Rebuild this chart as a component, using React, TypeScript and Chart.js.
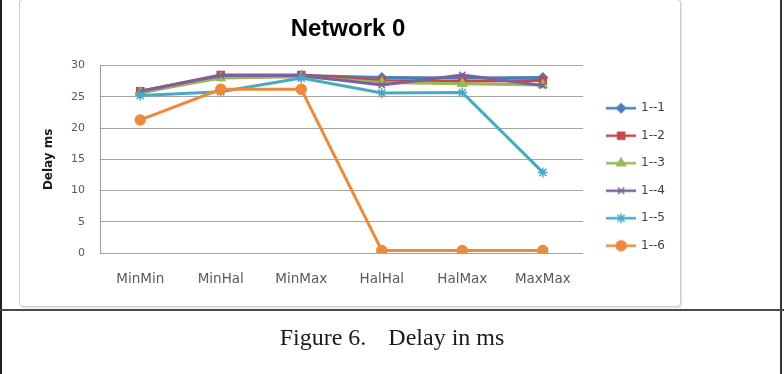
import React, { useEffect, useRef } from "react";
import { Chart, registerables } from "chart.js";
import { drawPoint } from "chart.js/helpers";

Chart.register(...registerables);

const categories = ["MinMin", "MinHal", "MinMax", "HalHal", "HalMax", "MaxMax"];
const seriesNames = ["1--1", "1--2", "1--3", "1--4", "1--5", "1--6"];
const series11 = [25.6, 28.3, 28.4, 28.1, 28.0, 28.1];
const series12 = [25.9, 28.5, 28.5, 27.6, 27.5, 27.6];
const series13 = [25.7, 28.0, 28.2, 27.3, 27.1, 26.9];
const series14 = [25.9, 28.4, 28.4, 26.9, 28.5, 26.8];
const series15 = [25.2, 25.8, 28.0, 25.6, 25.7, 12.9];
const series16 = [21.3, 26.2, 26.2, 0.4, 0.4, 0.4];
const seriesValues = [series11, series12, series13, series14, series15, series16];
const yMin = 0;
const yMax = 30;
const yStep = 5;

const colors = ["#4A7EBB", "#BE4B48", "#98B954", "#7D60A0", "#46AAC5", "#EC8A3C"];
const pointStyles = ["rectRot", "rect", "triangle", "crossRot", "star", "circle"];
const pointRadii = [4.5, 5, 5, 4.5, 5, 5];

function legendImage(color: string, style: string, radius: number) {
  const c = document.createElement("canvas");
  c.width = 30;
  c.height = 14;
  const ctx = c.getContext("2d")!;
  ctx.strokeStyle = color;
  ctx.lineWidth = 2.5;
  ctx.beginPath();
  ctx.moveTo(0, 7);
  ctx.lineTo(30, 7);
  ctx.stroke();
  ctx.fillStyle = color;
  ctx.strokeStyle = color;
  ctx.lineWidth = 1.5;
  drawPoint(ctx, { pointStyle: style, rotation: 0, radius, borderWidth: 1.5 } as any, 15, 7);
  return c;
}

export default function App() {
  const ref = useRef<HTMLCanvasElement | null>(null);

  useEffect(() => {
    if (!ref.current) return;
    Chart.defaults.font.family = "'DejaVu Sans', sans-serif";
    const legendImages = seriesValues.map((_, i) => legendImage(colors[i], pointStyles[i], pointRadii[i]));
    const datasets = seriesValues.map((data, i) => ({
      label: seriesNames[i],
      data,
      borderColor: colors[i],
      backgroundColor: colors[i],
      borderWidth: 3,
      pointStyle: pointStyles[i],
      pointRadius: pointRadii[i],
      pointBorderWidth: 1.5,
      pointBackgroundColor: colors[i],
      pointBorderColor: colors[i],
      tension: 0,
      order: seriesValues.length - i,
    }));
    const chart = new Chart(ref.current, {
      type: "line",
      data: { labels: categories, datasets: datasets as any },
      options: {
        animation: false,
        responsive: false,
        devicePixelRatio: 1,
        layout: { padding: 0 },
        plugins: {
          tooltip: { enabled: false },
          title: {
            display: true,
            text: "Network 0",
            color: "#000000",
            font: { family: "'Liberation Sans', Arial, sans-serif", size: 24, weight: "bold" },
            padding: { top: 15, bottom: 21.8 },
          },
          legend: {
            position: "right",
            align: "center",
            labels: {
              usePointStyle: true,
              pointStyleWidth: 28,
              padding: 15.5,
              color: "#404040",
              font: { size: 12 },
              sort: (a: any, b: any) => a.datasetIndex - b.datasetIndex,
              generateLabels: (ch: any) => {
                const items = (Chart.defaults.plugins.legend.labels as any).generateLabels(ch);
                return items
                  .map((it: any) => ({ ...it, pointStyle: legendImages[it.datasetIndex] }))
                  .sort((a: any, b: any) => a.datasetIndex - b.datasetIndex);
              },
            },
          },
        },
        scales: {
          x: {
            type: "category",
            offset: true,
            grid: { display: false, drawTicks: false },
            border: { display: false },
            ticks: { color: "#595959", font: { size: 13.5 }, padding: 18, maxRotation: 0 },
            afterFit: (s: any) => {
              s.height = 101;
            },
          },
          y: {
            type: "linear",
            min: yMin,
            max: yMax,
            ticks: { stepSize: yStep, color: "#595959", font: { size: 11 }, padding: 15 },
            grid: { color: "#a6a6a6", lineWidth: 1, drawTicks: false },
            border: { display: true, color: "#9a9a9a", width: 1 },
            title: {
              display: true,
              text: "Delay ms",
              color: "#1a1a1a",
              font: { size: 12, weight: "bold" },
              padding: { top: 20.8, bottom: 0 },
            },
            afterFit: (s: any) => {
              s.width = 79;
            },
          },
          gap: {
            type: "linear",
            position: "right",
            display: true,
            grid: { display: false, drawTicks: false },
            ticks: { display: false },
            border: { display: false },
            afterFit: (s: any) => {
              s.width = 8.5;
            },
          },
        },
      } as any,
    });
    return () => chart.destroy();
  }, []);

  return (
    <div
      style={{
        position: "fixed",
        left: 0,
        top: 0,
        width: 784,
        height: 374,
        background: "#ffffff",
        overflow: "hidden",
      }}
    >
      <div style={{ position: "absolute", left: 0, top: 0, width: 2, height: 374, background: "#222" }} />
      <div style={{ position: "absolute", left: 780, top: 0, width: 2, height: 374, background: "#333" }} />
      <div style={{ position: "absolute", left: 0, top: 309, width: 784, height: 2, background: "#4a4a4a" }} />
      <div
        style={{
          position: "absolute",
          left: 19,
          top: -1,
          width: 662,
          height: 308,
          boxSizing: "border-box",
          border: "1px solid #cfcfcf",
          borderRadius: 4,
          boxShadow: "1px 1px 1px rgba(0,0,0,0.12)",
          background: "#fff",
        }}
      />
      <canvas ref={ref} width={654} height={354} style={{ position: "absolute", left: 21, top: 0, width: 654, height: 354 }} />
      <div
        style={{
          position: "absolute",
          left: 0,
          top: 325,
          width: 784,
          textAlign: "center",
          fontFamily: "'Liberation Serif', 'Times New Roman', serif",
          fontSize: 24,
          lineHeight: "24px",
          color: "#1a1a1a",
          whiteSpace: "nowrap",
        }}
      >
        Figure 6.<span style={{ marginLeft: 22 }}>Delay in ms</span>
      </div>
    </div>
  );
}
